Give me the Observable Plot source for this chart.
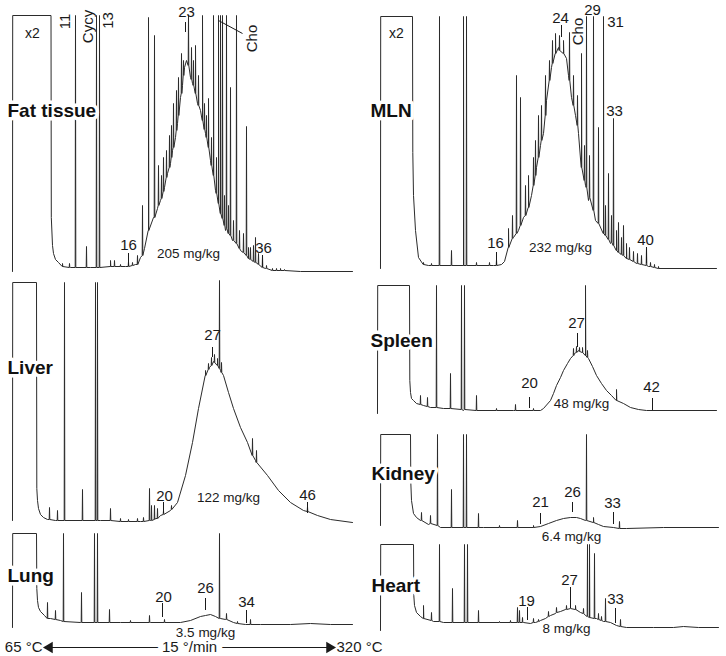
<!DOCTYPE html>
<html><head><meta charset="utf-8">
<script src="https://cdn.jsdelivr.net/npm/d3@7"></script>
<script src="https://cdn.jsdelivr.net/npm/@observablehq/plot@0.6"></script>
<style>
body{margin:0;background:#fff;}
#fig{position:relative;width:726px;height:656px;background:#fff;overflow:hidden;}
#fig > div{position:absolute;}
#fig svg{overflow:visible;}
</style></head><body><div id="fig"></div>
<script>
// ---- data: retention position (arbitrary units across the run) and detector signal (arbitrary units)
// trace = [retention, signal]; peaks = [retention, base signal, apex signal]
const fatTrace = [[12,4],[12.2,260],[50.5,260],[50.8,58],[52,30],[53,22],[55,16],[58,13],[62,9],[70,8],[90,8],[110,9],[125,9],[135,11],[140,18],[144,27],[148,45],[153,58],[157,67],[160,75],[164,88],[167,102],[170,112],[172,125],[175,138],[177,152],[180,178],[182,190],[184,208],[186,215],[190,198],[192,192],[195,182],[197,172],[200,165],[202,155],[205,142],[208,128],[210,115],[213,100],[215,85],[218,72],[220,62],[225,45],[232,35],[240,25],[248,17],[257,12],[265,7],[280,5],[300,4],[352,4]];
const fatPeaks = [[62,9,12],[69,8,12],[75,8,260],[86,8,29],[96,8,260],[99,8,260],[110,9,15],[114,9,15],[120,9,11],[128,9,14],[132,10,13],[137,11,20],[142,20,70],[148,45,258],[154,58,240],[158,70,110],[161,77,100],[163,84,118],[166,98,125],[169,108,140],[171,118,150],[173,128,172],[176,145,185],[178,160,198],[181,182,222],[183,200,215],[188,210,260],[191,196,228],[193,190,215],[195,182,230],[198,170,200],[202,155,260],[204,146,172],[206,138,160],[208,128,177],[211,110,138],[213,100,260],[216,82,118],[218,72,260],[220,62,260],[222,57,260],[224,50,80],[226,47,260],[228,42,70],[230,40,188],[233,35,55],[236,32,260],[239,27,45],[243,23,42],[246,20,149],[248,17,28],[250,16,28],[253,14,30],[255,13,38],[258,11,22],[262,8,20],[266,7,10],[272,5,7],[276,5,7],[280,5,7],[284,5,6]];
const fatTicks = [[185,253,243],[128,22,9],[262,20,8]];
const fatLinks = [[218,255,242,242]];
const fatNums = [[186,263,"23"],[128,30,"16"],[263,27,"36"]];
const fatVert = [[65,254,"11"],[88,249,"Cycy"],[108,255,"13"],[252,237,"Cho"]];
const fatConc = [[188,22,"205 mg/kg"]];
const fatName = [[7,165,"Fat tissue"]];
const fatX2 = [[32,242,"x2"]];

const mlnTrace = [[17,7],[17.2,259],[49,259],[49.3,123],[50,80],[52,45],[55,18],[60,11],[65,10],[100,10],[130,10],[138,11],[141,14],[145,28],[150,38],[155,45],[160,58],[165,68],[168,80],[173,108],[177,130],[180,142],[183,175],[188,208],[192,222],[195,228],[200,222],[203,217],[205,200],[208,178],[212,160],[215,142],[218,108],[222,90],[225,75],[232,55],[240,42],[247,32],[253,25],[263,17],[273,12],[285,9],[295,7],[353,7]];
const mlnPeaks = [[60,11,13],[68,10,12],[76,10,259],[88,10,25],[100,10,259],[103,10,259],[113,10,13],[126,10,13],[133,10,16],[145,28,47],[149,37,60],[153,42,200],[157,50,178],[162,60,90],[165,68,100],[170,90,118],[172,100,135],[175,118,160],[178,135,170],[182,160,200],[186,195,215],[189,212,235],[192,222,242],[196,225,240],[200,222,235],[206,195,243],[210,170,200],[214,150,180],[218,108,222],[221,95,130],[223,88,259],[226,78,120],[230,65,259],[235,52,148],[240,42,259],[242,40,70],[245,36,102],[248,33,60],[250,30,157],[253,25,45],[255,23,53],[258,21,38],[260,20,50],[263,17,32],[266,16,28],[270,14,24],[274,12,22],[278,11,20],[283,10,28],[287,9,13],[291,8,11],[295,7,9]];
const mlnTicks = [[133,23,10],[198,250,238],[283,28,12]];
const mlnNums = [[132,32,"16"],[197,257,"24"],[229,265,"29"],[252,253,"31"],[251,164,"33"],[282,35,"40"]];
const mlnVert = [[215,244,"Cho"]];
const mlnConc = [[197,28,"232 mg/kg"]];
const mlnName = [[7,165,"MLN"]];
const mlnX2 = [[33,242,"x2"]];

const liverTrace = [[12,10],[12.2,248],[36,248],[36.3,42],[37,30],[38,22],[40,16],[43,13],[47,11],[55,10],[100,10],[140,9],[150,10],[155,12],[160,15],[170,20],[177,28],[185,55],[192,88],[198,122],[205,155],[209,163],[213,169],[217,165],[220,160],[223,155],[228,138],[233,122],[240,103],[247,88],[255,70],[267,55],[278,40],[290,28],[303,20],[317,15],[330,11],[352,8]];
const liverPeaks = [[49,11,23],[57,10,20],[64,10,248],[82,10,41],[95,10,248],[97,10,248],[110,10,22],[120,9,12],[128,9,11],[137,9,12],[143,9,13],[149,10,42],[151,10,25],[154,11,25],[157,12,22],[163,16,20],[171,21,25],[205,155,160],[208,161,167],[211,165,173],[214,168,176],[217,165,172],[219,162,250],[221,158,168],[252,75,92],[256,68,80],[307,19,24]];
const liverTicks = [[212,183,173],[163,28,17],[307,28,17]];
const liverNums = [[212,195,"27"],[164,34,"20"],[307,35,"46"]];
const liverConc = [[228,33,"122 mg/kg"]];
const liverName = [[7,163,"Liver"]];

const lungTrace = [[12,8],[12.2,102],[36,102],[36.3,47],[37,35],[38,28],[40,24],[44,20],[50,17],[60,15],[80,13],[120,13],[150,13],[180,13],[190,15],[200,19],[205,20],[210,21],[215,19],[220,17],[225,16],[233,13],[245,11],[260,11],[290,11],[310,12],[330,11],[352,11]];
const lungPeaks = [[47,17,33],[55,16,25],[63,14,102],[81,13,43],[94,13,102],[97,13,102],[109,13,26],[130,13,15],[149,13,20],[164,13,16],[219,17,102],[226,16,22],[237,12,14],[250,11,16]];
const lungTicks = [[162,32,18],[205,37,25],[246,25,12]];
const lungNums = [[163,38,"20"],[205,47,"26"],[246,33,"34"]];
const lungConc = [[205,3,"3.5 mg/kg"]];
const lungName = [[7,60,"Lung"]];

const spleenTrace = [[14,7],[14.2,135],[46,135],[46.3,40],[47,28],[48,22],[50,20],[53,17],[60,15],[67,13],[80,12],[100,10],[150,10],[177,10],[180,12],[187,20],[190,27],[193,35],[197,43],[200,50],[204,57],[207,62],[211,67],[215,70],[219,68],[222,65],[225,62],[229,54],[233,45],[238,37],[243,30],[248,25],[253,20],[260,17],[267,13],[275,11],[283,10],[353,10]];
const spleenPeaks = [[57,16,25],[64,14,23],[73,13,135],[87,12,47],[98,11,135],[101,11,135],[113,10,25],[133,10,12],[152,10,16],[170,10,12],[210,65,72],[213,68,74],[216,69,73],[219,68,73],[222,65,135],[224,63,70],[253,20,31]];
const spleenTicks = [[166,23,12],[214,87,73],[289,22,10]];
const spleenNums = [[166,37,"20"],[213,97,"27"],[288,33,"42"]];
const spleenConc = [[218,17,"48 mg/kg"]];
const spleenName = [[7,80,"Spleen"]];

const kidneyTrace = [[17,15],[17.2,106],[47,106],[47.3,58],[48,40],[50,27],[53,23],[57,20],[65,16],[77,13],[120,13],[170,13],[177,14],[185,17],[193,20],[200,22],[207,23],[213,23],[217,22],[222,20],[230,18],[235,16],[240,14],[250,13],[263,12],[300,13],[355,13]];
const kidneyPeaks = [[58,20,28],[67,17,25],[74,15,106],[88,13,51],[100,13,106],[103,13,106],[115,13,27],[136,13,15],[154,13,20],[170,13,15],[223,20,106],[230,18,23],[256,12,19]];
const kidneyTicks = [[177,27,16],[209,38,28],[250,28,16]];
const kidneyNums = [[177,38,"21"],[209,48,"26"],[249,37,"33"]];
const kidneyConc = [[208,4,"6.4 mg/kg"]];
const kidneyName = [[8,67,"Kidney"]];

const heartTrace = [[17,10],[17.2,96],[50,96],[50.3,45],[51,35],[53,28],[57,24],[60,22],[70,19],[80,18],[160,18],[167,17],[172,18],[177,20],[182,22],[187,25],[192,27],[197,29],[202,31],[207,32],[212,31],[217,28],[222,25],[226,23],[233,22],[240,19],[247,18],[253,15],[263,13],[290,13],[310,13],[320,14],[335,13],[355,13]];
const heartPeaks = [[60,22,35],[68,20,28],[76,19,96],[89,18,52],[101,18,96],[104,18,96],[115,18,30],[136,18,19],[147,18,20],[154,18,33],[156,18,30],[159,18,23],[170,18,22],[175,19,21],[185,24,29],[193,28,33],[203,31,35],[212,31,35],[220,27,32],[224,24,96],[226,23,96],[231,22,87],[235,21,27],[238,20,24],[242,19,42],[257,14,21]];
const heartTicks = [[164,33,20],[207,53,32],[252,32,17]];
const heartNums = [[163,39,"19"],[206,60,"27"],[252,41,"33"]];
const heartConc = [[203,12,"8 mg/kg"]];
const heartName = [[8,55,"Heart"]];

const tempRange = [65, 320];
const tempUnit = "°C";
const rateLabel = ["15 °/min"];

// ---- drawing
const FONT = "'Liberation Sans', Arial, Helvetica, sans-serif";
const INK = "#1a1a1a";
const fig = document.getElementById("fig");

// temperature programme arrow (drawn first so panel texts sit above its halo)
const mid = (tempRange[0] + tempRange[1]) / 2;
const axis = Plot.plot({
  width: 726, height: 20, marginLeft: 49, marginRight: 397, marginTop: 0, marginBottom: 0,
  x: {domain: tempRange, axis: null},
  y: {domain: [-1, 1], axis: null},
  style: {background: "transparent", overflow: "visible", fontFamily: FONT},
  marks: [
    Plot.ruleY([0], {x1: tempRange[0], x2: tempRange[1], stroke: INK, strokeWidth: 1}),
    Plot.text(rateLabel, {x: mid, y: 0, text: d => d, fontSize: 15, fill: INK, stroke: "white", strokeWidth: 12, paintOrder: "stroke"}),
    Plot.dot(tempRange, {x: d => d, y: 0, symbol: "triangle", r: 4.2, fill: INK, stroke: "none", rotate: d => d === tempRange[0] ? -90 : 90}),
    Plot.text([tempRange[0]], {x: d => d, y: 0, text: d => `${d} ${tempUnit}`, textAnchor: "end", dx: -7, fontSize: 15, fill: INK}),
    Plot.text([tempRange[1]], {x: d => d, y: 0, text: d => `${d} ${tempUnit}`, textAnchor: "start", dx: 7, fontSize: 15, fill: INK})
  ]
});
const adiv = document.createElement("div");
adiv.style.left = "0px"; adiv.style.top = "637px";
adiv.appendChild(axis);
fig.appendChild(adiv);

function traceLine(trace, peaks) {
  const pts = trace.map(([x, y]) => ({x, y}));
  for (const [x, b, t] of peaks) pts.push({x: x - 0.3, y: b}, {x, y: t}, {x: x + 0.3, y: b});
  pts.sort((a, b) => a.x - b.x);
  return pts;
}
const X = d => d[0], Y = d => d[1], T = d => d[2];

function panel(p) {
  const marks = [
    Plot.line(traceLine(p.trace, p.peaks), {x: "x", y: "y", stroke: "#2b2b2b", strokeWidth: 1}),
    Plot.ruleX(p.ticks, {x: X, y1: Y, y2: T, stroke: INK, strokeWidth: 1}),
    Plot.link(p.links || [], {x1: d => d[0], y1: d => d[1], x2: d => d[2], y2: d => d[3], stroke: INK, strokeWidth: 1}),
    Plot.text(p.nums, {x: X, y: Y, text: T, fontSize: 15, fill: INK}),
    Plot.text(p.vert || [], {x: X, y: Y, text: T, fontSize: 15, fill: INK, rotate: -90}),
    Plot.text(p.conc, {x: X, y: Y, text: T, fontSize: 13.5, fill: INK}),
    Plot.text(p.x2 || [], {x: X, y: Y, text: T, fontSize: 14, fill: INK}),
    Plot.text(p.name, {x: X, y: Y, text: T, textAnchor: "start", fontWeight: "bold", fontSize: 19, fill: "#111",
      stroke: "white", strokeWidth: 7, paintOrder: "stroke", strokeLinejoin: "round"})
  ];
  const chart = Plot.plot({
    width: 363, height: p.height, margin: 0,
    x: {domain: [0, 363], axis: null},
    y: {domain: [0, p.height], axis: null},
    style: {background: "transparent", overflow: "visible", fontFamily: FONT},
    marks
  });
  const div = document.createElement("div");
  div.style.left = p.left + "px";
  div.style.top = p.top + "px";
  div.appendChild(chart);
  fig.appendChild(div);
}

panel({left: 0, top: 0, height: 275, trace: fatTrace, peaks: fatPeaks, ticks: fatTicks, links: fatLinks, nums: fatNums, vert: fatVert, conc: fatConc, name: fatName, x2: fatX2});
panel({left: 363, top: 0, height: 275, trace: mlnTrace, peaks: mlnPeaks, ticks: mlnTicks, nums: mlnNums, vert: mlnVert, conc: mlnConc, name: mlnName, x2: mlnX2});
panel({left: 0, top: 275, height: 255, trace: liverTrace, peaks: liverPeaks, ticks: liverTicks, nums: liverNums, conc: liverConc, name: liverName});
panel({left: 0, top: 525, height: 110, trace: lungTrace, peaks: lungPeaks, ticks: lungTicks, nums: lungNums, conc: lungConc, name: lungName});
panel({left: 363, top: 280, height: 140, trace: spleenTrace, peaks: spleenPeaks, ticks: spleenTicks, nums: spleenNums, conc: spleenConc, name: spleenName});
panel({left: 363, top: 430, height: 110, trace: kidneyTrace, peaks: kidneyPeaks, ticks: kidneyTicks, nums: kidneyNums, conc: kidneyConc, name: kidneyName});
panel({left: 363, top: 540, height: 100, trace: heartTrace, peaks: heartPeaks, ticks: heartTicks, nums: heartNums, conc: heartConc, name: heartName});
</script>
</body></html>
